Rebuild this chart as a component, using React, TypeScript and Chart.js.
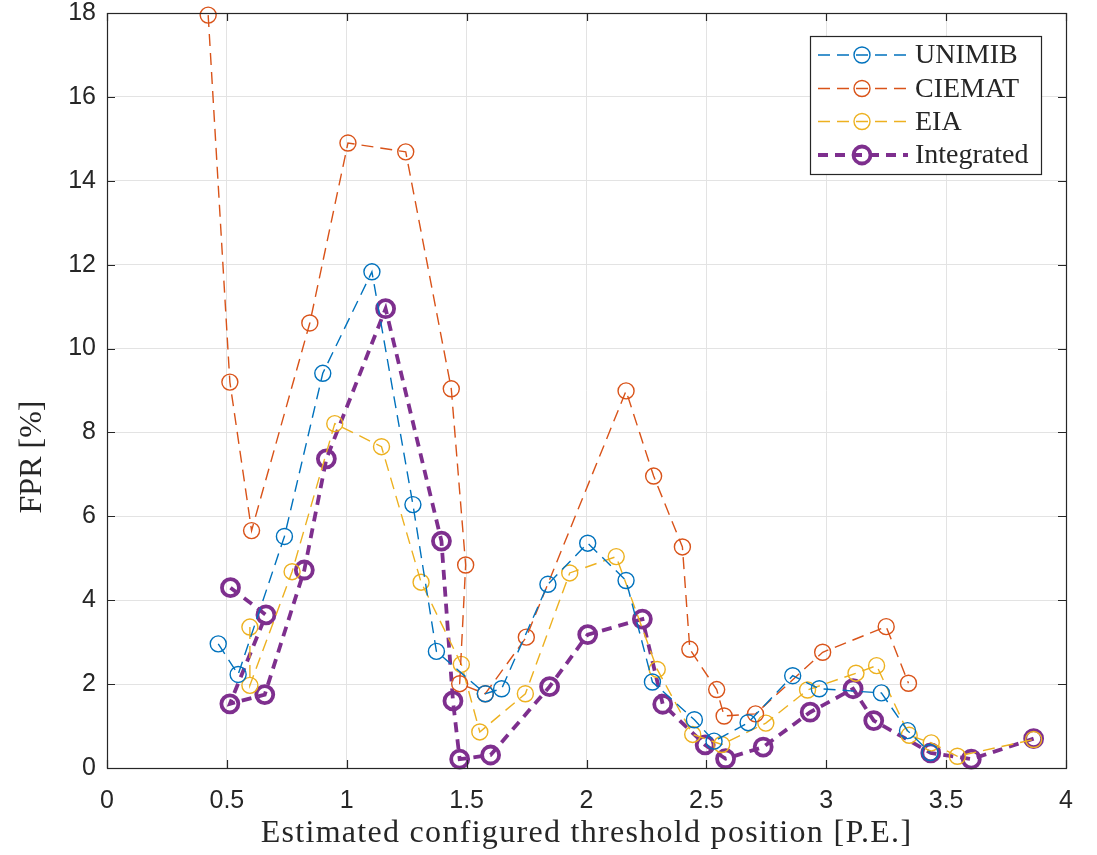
import React, { useEffect, useRef } from 'react';
import { Chart, registerables } from 'chart.js';

Chart.register(...registerables);

// ---- Data ----
const unimibX = [0.464, 0.547, 0.74, 0.90, 1.105, 1.276, 1.374, 1.578, 1.646, 1.839, 2.005, 2.165, 2.275, 2.45, 2.532, 2.674, 2.86, 2.971, 3.23, 3.339, 3.433];
const unimibY = [2.96, 2.23, 5.52, 9.41, 11.83, 6.28, 2.78, 1.77, 1.89, 4.38, 5.36, 4.47, 2.05, 1.15, 0.64, 1.08, 2.2, 1.89, 1.79, 0.89, 0.37];

const ciematX = [0.422, 0.5125, 0.603, 0.846, 1.005, 1.246, 1.436, 1.496, 1.471, 1.578, 1.749, 2.165, 2.28, 2.40, 2.431, 2.543, 2.574, 2.705, 2.985, 3.25, 3.343];
const ciematY = [17.95, 9.2, 5.66, 10.61, 14.9, 14.69, 9.04, 4.84, 2.01, 1.77, 3.12, 8.99, 6.96, 5.27, 2.83, 1.87, 1.24, 1.29, 2.76, 3.37, 2.02];

const eiaX = [0.596, 0.596, 0.772, 0.95, 1.145, 1.31, 1.478, 1.555, 1.745, 1.93, 2.124, 2.295, 2.443, 2.564, 2.748, 2.922, 3.124, 3.21, 3.346, 3.438, 3.547, 3.865];
const eiaY = [3.36, 1.97, 4.68, 8.21, 7.66, 4.43, 2.47, 0.86, 1.77, 4.65, 5.04, 2.35, 0.8, 0.56, 1.07, 1.86, 2.26, 2.44, 0.78, 0.6, 0.28, 0.68];

const integratedX = [0.515, 0.663, 0.5125, 0.658, 0.823, 0.915, 1.162, 1.395, 1.443, 1.471, 1.6, 1.846, 2.005, 2.233, 2.318, 2.495, 2.58, 2.737, 2.933, 3.112, 3.198, 3.436, 3.605, 3.865];
const integratedY = [4.30, 3.65, 1.53, 1.75, 4.72, 7.37, 10.95, 5.41, 1.6, 0.21, 0.31, 1.94, 3.18, 3.55, 1.52, 0.55, 0.22, 0.5, 1.33, 1.89, 1.13, 0.36, 0.21, 0.7];

const seriesNames = ['UNIMIB', 'CIEMAT', 'EIA', 'Integrated'];
const xTicks = [0, 0.5, 1, 1.5, 2, 2.5, 3, 3.5, 4];
const yTicks = [0, 2, 4, 6, 8, 10, 12, 14, 16, 18];
const xTitle = 'Estimated configured threshold position [P.E.]';
const yTitle = 'FPR [%]';

// ---- Styles ----
const colors = ['#0072BD', '#D95319', '#EDB120', '#7E2F8E'];
const lineWidths = [1.4, 1.4, 1.4, 3.8];
const dashes = [[12, 7], [12, 7], [12, 7], [10, 7]];
const radii = [8, 8, 8, 8.5];
const AX = '#262626';

const zip = (xs: number[], ys: number[]) => xs.map((x, i) => ({ x, y: ys[i] }));

const framePlugin = {
  id: 'frame',
  afterDraw(chart: any) {
    const { ctx, chartArea: a, scales } = chart;
    ctx.save();
    ctx.strokeStyle = AX;
    ctx.lineWidth = 1.2;
    ctx.strokeRect(Math.round(a.left) + 0.5, Math.round(a.top) + 0.5, Math.round(a.right - a.left), Math.round(a.bottom - a.top));
    const tl = 8;
    ctx.beginPath();
    xTicks.forEach((v) => {
      const px = Math.round(scales.x.getPixelForValue(v)) + 0.5;
      ctx.moveTo(px, a.bottom); ctx.lineTo(px, a.bottom - tl);
      ctx.moveTo(px, a.top); ctx.lineTo(px, a.top + tl);
    });
    yTicks.forEach((v) => {
      const py = Math.round(scales.y.getPixelForValue(v)) + 0.5;
      ctx.moveTo(a.left, py); ctx.lineTo(a.left + tl, py);
      ctx.moveTo(a.right, py); ctx.lineTo(a.right - tl, py);
    });
    ctx.stroke();

    // axis titles
    ctx.fillStyle = AX;
    ctx.font = '32px "Liberation Serif"';
    ctx.textAlign = 'center';
    ctx.textBaseline = 'middle';
    ctx.save();
    (ctx as any).letterSpacing = '1.3px';
    ctx.fillText(xTitle, (a.left + a.right) / 2, 834);
    ctx.restore();
    ctx.save();
    ctx.translate(33, 457);
    ctx.rotate(-Math.PI / 2);
    ctx.fillText(yTitle, 0, 0);
    ctx.restore();

    // legend
    const bx = 810.5, by = 36.5, bw = 231, bh = 138;
    ctx.fillStyle = '#ffffff';
    ctx.fillRect(bx, by, bw, bh);
    ctx.strokeStyle = AX;
    ctx.lineWidth = 1.2;
    ctx.strokeRect(bx, by, bw, bh);
    const rowY = [55, 88.5, 121.5, 155];
    seriesNames.forEach((name, i) => {
      const y = rowY[i];
      ctx.save();
      ctx.strokeStyle = colors[i];
      ctx.lineWidth = lineWidths[i];
      ctx.setLineDash(dashes[i]);
      ctx.beginPath();
      ctx.moveTo(818, y); ctx.lineTo(908, y);
      ctx.stroke();
      ctx.setLineDash([]);
      ctx.beginPath();
      ctx.arc(862, y, radii[i], 0, Math.PI * 2);
      ctx.stroke();
      ctx.restore();
      ctx.fillStyle = AX;
      ctx.font = '28px "Liberation Serif"';
      ctx.textAlign = 'left';
      ctx.textBaseline = 'middle';
      ctx.fillText(name, 915, y + 1);
    });
    ctx.restore();
  },
};

export default function App() {
  const ref = useRef<HTMLCanvasElement>(null);
  useEffect(() => {
    if (!ref.current) return;
    const seriesData = [zip(unimibX, unimibY), zip(ciematX, ciematY), zip(eiaX, eiaY), zip(integratedX, integratedY)];
    const chart = new Chart(ref.current, {
      type: 'line',
      data: {
        datasets: seriesNames.map((name, i) => ({
          label: name,
          data: seriesData[i],
          borderColor: colors[i],
          borderWidth: lineWidths[i],
          borderDash: dashes[i],
          pointStyle: 'circle',
          pointRadius: radii[i],
          pointBorderWidth: lineWidths[i],
          pointBorderColor: colors[i],
          pointBackgroundColor: 'rgba(0,0,0,0)',
          tension: 0,
          fill: false,
          clip: false as any,
        })),
      },
      options: {
        animation: false,
        responsive: false,
        devicePixelRatio: 1,
        layout: { padding: { left: 0, top: 13, right: 31, bottom: 0 } },
        plugins: { legend: { display: false }, tooltip: { enabled: false } },
        scales: {
          x: {
            type: 'linear',
            min: 0,
            max: 4,
            afterBuildTicks: (s: any) => { s.ticks = xTicks.map((v) => ({ value: v })); },
            afterFit: (s: any) => { s.height = 87; s.paddingLeft = 0; s.paddingRight = 0; },
            ticks: {
              color: AX,
              font: { family: '"Liberation Sans"', size: 25 },
              padding: 18,
              maxRotation: 0,
              autoSkip: false,
              callback: (v: any) => String(v),
            },
            grid: { color: '#e3e3e3', lineWidth: 1, drawTicks: false },
            border: { display: false },
          },
          y: {
            type: 'linear',
            min: 0,
            max: 18,
            afterBuildTicks: (s: any) => { s.ticks = yTicks.map((v) => ({ value: v })); },
            afterFit: (s: any) => { s.width = 107; s.paddingTop = 0; s.paddingBottom = 0; },
            ticks: {
              color: AX,
              font: { family: '"Liberation Sans"', size: 25 },
              padding: 11,
              autoSkip: false,
              callback: (v: any) => String(v),
            },
            grid: { color: '#e3e3e3', lineWidth: 1, drawTicks: false },
            border: { display: false },
          },
        },
      },
      plugins: [framePlugin],
    });
    return () => chart.destroy();
  }, []);
  return (
    <div style={{ position: 'absolute', left: 0, top: 0, width: 1097, height: 855, background: '#fff' }}>
      <canvas ref={ref} width={1097} height={855} />
    </div>
  );
}
